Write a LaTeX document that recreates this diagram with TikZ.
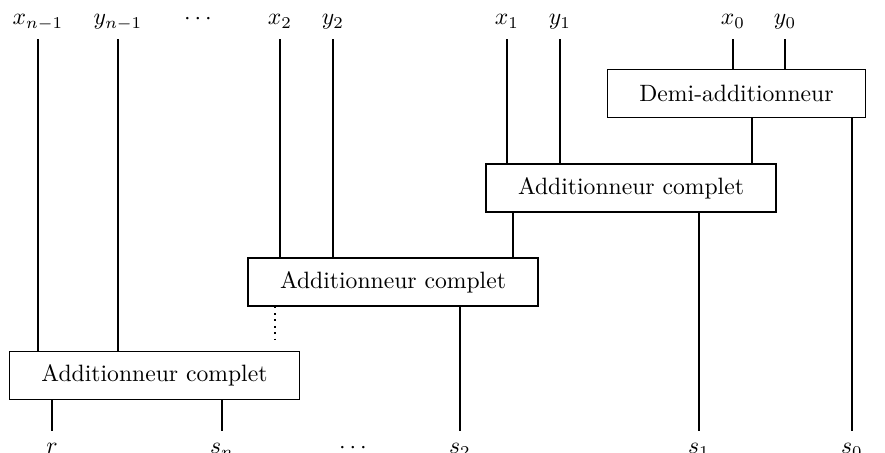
\documentclass[tikz,border=0pt]{standalone}
\usepackage{amsmath}
\usetikzlibrary{positioning}

\begin{document}
\begin{tikzpicture}[
  x=0.423pt, y=-0.423pt,
  line width=0.7pt,
  adder/.style={draw, inner xsep=13.5pt, minimum height=20.2pt},
  lbl/.style={anchor=base, text height=1.5ex, text depth=0.6ex, inner sep=3pt},
]
\useasboundingbox (0,0) rectangle (885,453);

% Adders
\node[adder] (demi) at (736.5,93.5) {Demi-additionneur};
\node[adder] (fa1) at (631,188) {Additionneur complet};
\node[adder] (fa2) at (393,282) {Additionneur complet};
\node[adder] (fa3) at (154.5,375.5) {Additionneur complet};

% Inputs
\node[lbl] (xn) at (38,25) {$x_{n-1}$};
\node[lbl] (yn) at (118,25) {$y_{n-1}$};
\node[lbl] (tdots) at (200,25) {$\cdots$};
\node[lbl] (x2) at (280,25) {$x_2$};
\node[lbl] (y2) at (333,25) {$y_2$};
\node[lbl] (x1) at (507,25) {$x_1$};
\node[lbl] (y1) at (560,25) {$y_1$};
\node[lbl] (x0) at (733,25) {$x_0$};
\node[lbl] (y0) at (785,25) {$y_0$};

% Outputs
\node[lbl] (r) at (52,454) {$r$};
\node[lbl] (sn) at (222,454) {$s_n$};
\node[lbl] (bdots) at (355,454) {$\cdots$};
\node[lbl] (s2) at (460,454) {$s_2$};
\node[lbl] (s1) at (699,454) {$s_1$};
\node[lbl] (s0) at (852,454) {$s_0$};

% Carries
\coordinate (c0) at (752,0);
\coordinate (c1) at (513,0);
\coordinate (c2) at (275,0);

% Wires
\draw (xn.south) -- (xn.south |- fa3.north);
\draw (yn.south) -- (yn.south |- fa3.north);
\draw (x2.south) -- (x2.south |- fa2.north);
\draw (y2.south) -- (y2.south |- fa2.north);
\draw (x1.south) -- (x1.south |- fa1.north);
\draw (y1.south) -- (y1.south |- fa1.north);
\draw (x0.south) -- (x0.south |- demi.north);
\draw (y0.south) -- (y0.south |- demi.north);

\draw (c0 |- demi.south) -- (c0 |- fa1.north);
\draw (c1 |- fa1.south) -- (c1 |- fa2.north);
\draw[dotted, shorten >=3pt] (c2 |- fa2.south) -- (c2 |- fa3.north);

\draw (s0.north |- demi.south) -- (s0.north);
\draw (s1.north |- fa1.south) -- (s1.north);
\draw (s2.north |- fa2.south) -- (s2.north);
\draw (sn.north |- fa3.south) -- (sn.north);
\draw (r.north |- fa3.south) -- (r.north);
\end{tikzpicture}
\end{document}
